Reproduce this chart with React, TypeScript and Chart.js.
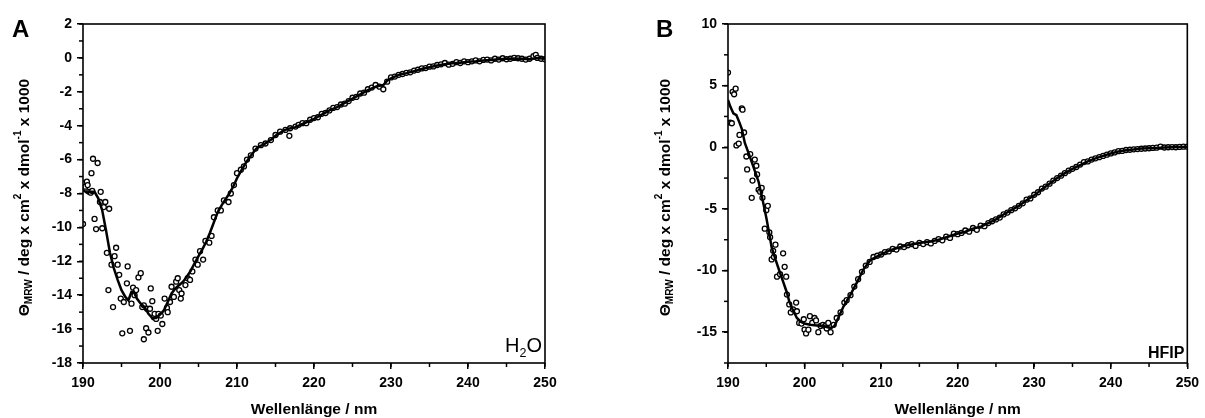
import React, { useEffect, useRef } from "react";
import { Chart, registerables } from "chart.js";

Chart.register(...registerables);

// ---------- Panel A (H2O) ----------
const aLineX = [190, 190.5, 191, 191.5, 192, 192.5, 193, 193.5, 194, 194.5, 195, 195.5, 195.9, 196.3, 196.6, 197, 197.5, 198, 198.5, 199, 199.5, 200, 200.5, 201, 201.5, 202, 202.5, 203, 203.5, 204, 204.5, 205, 205.5, 206, 206.5, 207, 207.5, 208, 208.5, 209, 209.5, 210, 210.5, 211, 211.5, 212, 212.5, 213, 213.5, 214, 214.5, 215, 215.5, 216, 216.5, 217, 217.5, 218, 218.5, 219, 219.5, 220, 221, 222, 223, 224, 225, 226, 227, 228, 228.5, 229, 229.5, 230, 231, 232, 233, 234, 235, 236, 237, 238, 239, 240, 241, 242, 243, 244, 245, 246, 247, 248, 249, 250];
const aLineY = [-7.8, -7.95, -7.9, -7.9, -8.3, -9.0, -10.2, -11.5, -12.4, -13.1, -13.7, -14.1, -14.3, -13.8, -13.8, -14.2, -14.5, -14.7, -15.1, -15.35, -15.35, -15.15, -14.9, -14.4, -13.9, -13.6, -13.4, -13.2, -12.9, -12.55, -12.1, -11.7, -11.3, -10.85, -10.3, -9.7, -9.1, -8.7, -8.35, -8.0, -7.6, -7.1, -6.7, -6.3, -5.95, -5.65, -5.35, -5.2, -5.1, -4.95, -4.8, -4.6, -4.45, -4.3, -4.2, -4.15, -4.1, -4.0, -3.9, -3.8, -3.7, -3.6, -3.35, -3.1, -2.9, -2.65, -2.4, -2.15, -1.9, -1.7, -1.65, -1.6, -1.35, -1.2, -1.0, -0.9, -0.78, -0.65, -0.55, -0.45, -0.38, -0.32, -0.28, -0.22, -0.2, -0.15, -0.12, -0.08, -0.05, -0.03, -0.05, -0.08, 0.0, -0.05];

const aPtsX = [190, 190.1, 190.3, 190.5, 190.6, 190.8, 191.0, 191.1, 191.2, 191.3, 191.5, 191.7, 191.9, 192.2, 192.3, 192.5, 192.7, 192.9, 193.1, 193.3, 193.4, 193.7, 193.9, 194.1, 194.3, 194.5, 194.7, 194.9, 195.1, 195.3, 195.7, 195.8, 196.1, 196.3, 196.5, 196.7, 196.9, 197.2, 197.5, 197.7, 197.9, 197.9, 198.2, 198.3, 198.5, 198.7, 198.8, 199.0, 199.2, 199.3, 199.5, 199.7, 199.8, 200.1, 200.3, 200.6, 200.9, 201.0, 201.3, 201.5, 201.8, 202.1, 202.3, 202.5, 202.7, 202.8, 203.3, 203.6, 203.9, 204.2, 204.6, 204.9, 205.2, 205.6, 205.9, 206.4, 206.7, 207.0, 207.5, 207.9, 208.3, 208.9, 209.2, 209.6, 210.0, 210.5, 210.9, 211.3, 211.8, 212.4, 213.1, 213.7, 214.4, 215.0, 215.6, 216.3, 216.8, 216.9, 217.6, 218, 218.5, 219, 219.5, 220, 220.5, 221, 221.5, 222, 222.5, 223, 223.5, 224, 224.5, 225, 225.5, 226, 226.5, 227, 227.5, 228, 228.5, 229, 229.5, 230, 230.5, 231, 231.5, 232, 232.5, 233, 233.5, 234, 234.5, 235, 235.5, 236, 236.5, 237, 237.5, 238, 238.5, 239, 239.5, 240, 240.5, 241, 241.5, 242, 242.5, 243, 243.5, 244, 244.5, 245, 245.5, 246, 246.5, 247, 247.5, 248, 248.5, 248.8, 249, 249.5, 250];
const aPtsY = [-9.8, -7.4, -7.6, -7.3, -7.5, -7.9, -7.95, -6.8, -7.85, -5.95, -9.5, -10.1, -6.2, -8.5, -7.9, -10.05, -8.8, -8.5, -11.5, -13.7, -8.9, -12.2, -14.7, -11.7, -11.2, -12.2, -12.8, -14.2, -16.25, -14.4, -13.3, -12.3, -16.1, -14.5, -13.55, -14.0, -13.7, -12.95, -12.7, -14.7, -16.6, -14.6, -15.95, -14.8, -16.2, -14.8, -13.6, -14.35, -15.3, -15.1, -15.4, -16.1, -15.1, -15.2, -15.7, -14.2, -14.75, -15.0, -14.4, -13.5, -14.1, -13.2, -13.0, -13.7, -14.2, -13.9, -13.4, -13.0, -13.1, -12.6, -11.9, -12.2, -11.4, -11.9, -10.8, -10.9, -10.5, -9.4, -9.0, -9.0, -8.4, -8.5, -8.0, -7.5, -6.8, -6.6, -6.4, -6.0, -5.75, -5.35, -5.15, -5.05, -4.85, -4.55, -4.35, -4.25, -4.6, -4.15, -4.05, -3.95, -3.85, -3.85, -3.65, -3.55, -3.5, -3.3, -3.25, -3.1, -2.95, -2.9, -2.75, -2.7, -2.55, -2.35, -2.3, -2.1, -2.05, -1.85, -1.75, -1.6, -1.7, -1.85, -1.4, -1.15, -1.1, -1.0, -0.95, -0.88, -0.85, -0.75, -0.7, -0.62, -0.6, -0.52, -0.5, -0.42, -0.38, -0.3, -0.4, -0.35, -0.25, -0.3, -0.2, -0.25, -0.2, -0.15, -0.2, -0.12, -0.1, -0.15, -0.05, -0.1, -0.02, -0.08, -0.05, 0.0, -0.02, -0.05, -0.1, -0.05, 0.1, 0.18, 0.0, -0.05, -0.08];

const aYTicks = [-18, -16, -14, -12, -10, -8, -6, -4, -2, 0, 2];

// ---------- Panel B (HFIP) ----------
const bLineX = [190, 190.3, 190.7, 191.1, 191.5, 191.8, 192.2, 192.7, 193.3, 194.0, 194.6, 195.0, 195.3, 195.7, 196.2, 196.8, 197.2, 197.7, 198.0, 198.4, 199.0, 199.5, 200.0, 200.7, 201.6, 202.5, 203.0, 203.5, 203.9, 204.4, 205.1, 206.0, 206.9, 207.7, 208.6, 209.5, 210.3, 211.2, 212.5, 213.8, 215.2, 216.5, 217.8, 219, 220, 221, 222, 223, 224, 225, 226, 227, 228, 229, 230, 231, 232, 233, 234, 235, 236, 237, 238, 239, 240, 241, 242, 243, 244, 245, 246, 247, 248, 249, 250];
const bLineY = [3.85, 3.3, 2.75, 2.6, 2.0, 1.5, 0.35, -0.5, -1.55, -2.8, -4.5, -5.7, -6.7, -8.1, -9.1, -10.2, -10.9, -11.8, -12.5, -13.1, -13.85, -14.15, -14.3, -14.4, -14.45, -14.5, -14.6, -14.65, -14.5, -13.85, -12.9, -11.95, -10.9, -9.9, -9.15, -8.85, -8.6, -8.35, -8.1, -7.9, -7.75, -7.65, -7.45, -7.2, -7.0, -6.85, -6.6, -6.45, -6.15, -5.85, -5.45, -5.1, -4.75, -4.3, -3.9, -3.4, -2.95, -2.5, -2.1, -1.75, -1.45, -1.15, -0.9, -0.7, -0.5, -0.35, -0.25, -0.18, -0.1, -0.08, -0.05, -0.02, 0.0, 0.02, 0.05];

const bPtsX = [190, 190.3, 190.5, 190.6, 190.8, 191.0, 191.1, 191.4, 191.5, 191.8, 191.9, 192.1, 192.4, 192.5, 192.9, 193.1, 193.2, 193.5, 193.7, 193.8, 194.0, 194.2, 194.4, 194.5, 194.8, 195.0, 195.2, 195.4, 195.5, 195.7, 195.9, 196.0, 196.2, 196.4, 196.8, 197.2, 197.4, 197.6, 197.7, 198.0, 198.2, 198.5, 198.9, 199.0, 199.3, 199.6, 199.9, 200.0, 200.2, 200.5, 200.7, 201.0, 201.3, 201.5, 201.8, 202.1, 202.4, 202.7, 202.9, 203.1, 203.4, 203.8, 204.2, 204.7, 205.2, 205.5, 206, 206.5, 207, 207.5, 208, 208.5, 209, 209.5, 210, 210.5, 211, 211.5, 212, 212.5, 213, 213.5, 214, 214.5, 215, 215.5, 216, 216.5, 217, 217.5, 218, 218.5, 219, 219.5, 220, 220.5, 221, 221.5, 222, 222.5, 223, 223.5, 224, 224.5, 225, 225.5, 226, 226.5, 227, 227.5, 228, 228.5, 229, 229.5, 230, 230.5, 231, 231.5, 232, 232.5, 233, 233.5, 234, 234.5, 235, 235.5, 236, 236.5, 237, 237.5, 238, 238.5, 239, 239.5, 240, 240.5, 241, 241.5, 242, 242.5, 243, 243.5, 244, 244.5, 245, 245.5, 246, 246.5, 247, 247.5, 248, 248.5, 249, 249.5, 250];
const bPtsY = [6.06, 2.0, 1.95, 4.5, 4.3, 4.75, 0.15, 0.3, 1.0, 3.15, 3.05, 1.2, -0.75, -1.8, -0.55, -4.1, -2.7, -1.0, -1.5, -2.2, -3.45, -3.6, -3.3, -4.1, -6.6, -5.1, -4.75, -6.9, -7.3, -9.1, -8.4, -8.9, -7.9, -10.5, -10.3, -8.6, -9.7, -10.5, -11.95, -12.75, -13.4, -13.15, -12.6, -13.3, -14.25, -14.3, -13.95, -14.8, -15.1, -14.8, -13.7, -14.25, -13.85, -14.05, -15.0, -14.5, -14.4, -14.5, -14.7, -14.25, -15.0, -14.4, -13.85, -13.4, -12.6, -12.4, -12.0, -11.3, -10.7, -10.1, -9.6, -9.3, -8.9, -8.8, -8.7, -8.5, -8.45, -8.25, -8.3, -8.05, -8.1, -7.95, -7.85, -8.0, -7.75, -7.85, -7.7, -7.8, -7.6, -7.45, -7.55, -7.25, -7.35, -7.0, -7.05, -6.95, -6.75, -6.85, -6.55, -6.7, -6.35, -6.4, -6.15, -6.0, -5.85, -5.7, -5.45, -5.3, -5.1, -4.95, -4.75, -4.55, -4.25, -4.15, -3.85, -3.65, -3.35, -3.2, -2.95, -2.7, -2.5, -2.3, -2.1, -1.9, -1.75, -1.6, -1.4, -1.2, -1.15, -1.0, -0.9, -0.8, -0.7, -0.6, -0.5, -0.42, -0.32, -0.3, -0.22, -0.2, -0.17, -0.15, -0.12, -0.1, -0.08, -0.05, -0.03, 0.05, -0.02, 0.0, 0.02, 0.0, 0.03, 0.05, 0.05];

const bYTicks = [-15, -10, -5, 0, 5, 10];

const xTitle = "Wellenlänge / nm";
const FONT = "'Liberation Sans', Arial, Helvetica, sans-serif";

type Seg = { t: string; size: number; dy: number };
const yTitleSegs: Seg[] = [
  { t: "Θ", size: 15.5, dy: 0 },
  { t: "MRW", size: 10, dy: 4.5 },
  { t: " / deg x cm", size: 15.5, dy: 0 },
  { t: "2", size: 10, dy: -6.5 },
  { t: " x dmol", size: 15.5, dy: 0 },
  { t: "-1", size: 10, dy: -6.5 },
  { t: " x 1000", size: 15.5, dy: 0 },
];

const framePlugin = {
  id: "frame",
  afterDraw(chart: any, _args: any, opts: any) {
    const { ctx, chartArea: a, scales } = chart;
    ctx.save();
    ctx.strokeStyle = "#000";
    ctx.lineWidth = 1.6;
    ctx.strokeRect(a.left, a.top, a.right - a.left, a.bottom - a.top);
    // minor ticks
    const xs = scales.x;
    const ys = scales.y;
    ctx.lineWidth = 1.5;
    const nx = Math.round((xs.max - xs.min) / opts.xMinor);
    for (let i = 0; i <= nx; i++) {
      const v = xs.min + i * opts.xMinor;
      const px = xs.getPixelForValue(v);
      ctx.beginPath();
      ctx.moveTo(px, a.bottom);
      ctx.lineTo(px, a.bottom + 4);
      ctx.stroke();
    }
    const ny = Math.round((ys.max - ys.min) / opts.yMinor);
    for (let i = 0; i <= ny; i++) {
      const v = ys.min + i * opts.yMinor;
      const py = ys.getPixelForValue(v);
      ctx.beginPath();
      ctx.moveTo(a.left - 4, py);
      ctx.lineTo(a.left, py);
      ctx.stroke();
    }
    // y title
    ctx.fillStyle = "#000";
    ctx.textBaseline = "middle";
    ctx.textAlign = "left";
    let total = 0;
    const widths = yTitleSegs.map((s) => {
      ctx.font = `bold ${s.size}px ${FONT}`;
      const w = ctx.measureText(s.t).width;
      total += w;
      return w;
    });
    ctx.save();
    ctx.translate(opts.yTitleX, (a.top + a.bottom) / 2 + 4);
    ctx.rotate(-Math.PI / 2);
    let cx = -total / 2;
    yTitleSegs.forEach((s, i) => {
      ctx.font = `bold ${s.size}px ${FONT}`;
      ctx.fillText(s.t, cx, s.dy);
      cx += widths[i];
    });
    ctx.restore();
    // panel letter
    ctx.font = `bold 24px ${FONT}`;
    ctx.textBaseline = "alphabetic";
    ctx.textAlign = "left";
    ctx.fillText(opts.letter, opts.letterX, 37);
    // corner label
    if (opts.corner === "H2O") {
      const parts: Seg[] = [
        { t: "H", size: 20, dy: 0 },
        { t: "2", size: 12.5, dy: 5 },
        { t: "O", size: 20, dy: 0 },
      ];
      let w = 0;
      const ws = parts.map((p) => {
        ctx.font = `${p.size}px ${FONT}`;
        const m = ctx.measureText(p.t).width;
        w += m;
        return m;
      });
      let x0 = a.right - 3 - w;
      const base = a.bottom - 11;
      parts.forEach((p, i) => {
        ctx.font = `${p.size}px ${FONT}`;
        ctx.fillText(p.t, x0, base + p.dy);
        x0 += ws[i];
      });
    } else {
      ctx.font = `bold 16px ${FONT}`;
      ctx.textAlign = "right";
      ctx.fillText(opts.corner, a.right - 3, a.bottom - 5);
    }
    // x title
    ctx.font = `bold 15.5px ${FONT}`;
    ctx.textAlign = "center";
    ctx.textBaseline = "alphabetic";
    ctx.fillText(xTitle, (a.left + a.right) / 2, 414);
    ctx.restore();
  },
};

type PanelSpec = {
  lineX: number[];
  lineY: number[];
  ptsX: number[];
  ptsY: number[];
  yMin: number;
  yMax: number;
  yTicks: number[];
  yMinor: number;
  yWidth: number;
  padRight: number;
  letter: string;
  letterX: number;
  corner: string;
  yTitleX: number;
};

function Panel({ spec, left, width }: { spec: PanelSpec; left: number; width: number }) {
  const ref = useRef<HTMLCanvasElement | null>(null);
  useEffect(() => {
    if (!ref.current) return;
    const tickFont = { family: FONT, size: 14, weight: "bold" as const };
    const chart = new Chart(ref.current, {
      type: "scatter",
      data: {
        datasets: [
          {
            label: "fit",
            data: spec.lineX.map((x, i) => ({ x, y: spec.lineY[i] })),
            showLine: true,
            borderColor: "#000",
            borderWidth: 2.5,
            pointRadius: 0,
            tension: 0,
            order: 0,
          } as any,
          {
            label: "data",
            data: spec.ptsX.map((x, i) => ({ x, y: spec.ptsY[i] })),
            showLine: false,
            pointRadius: 2.5,
            pointBorderWidth: 1.3,
            pointBorderColor: "#000",
            pointBackgroundColor: "#fff",
            borderColor: "#000",
            backgroundColor: "#fff",
            order: 1,
          } as any,
        ],
      },
      options: {
        responsive: false,
        animation: false,
        devicePixelRatio: 1,
        layout: { padding: { top: 24, right: spec.padRight, left: 0, bottom: 0 } },
        plugins: {
          legend: { display: false },
          tooltip: { enabled: false },
          frame: {
            xMinor: 5,
            yMinor: spec.yMinor,
            letter: spec.letter,
            letterX: spec.letterX,
            corner: spec.corner,
            yTitleX: spec.yTitleX,
          },
        } as any,
        scales: {
          x: {
            type: "linear",
            min: 190,
            max: 250,
            ticks: { stepSize: 10, font: tickFont, color: "#000", padding: 6, maxRotation: 0 },
            grid: { display: true, drawOnChartArea: false, drawTicks: true, tickLength: 6, color: "#000", lineWidth: 1.5 },
            border: { display: false },
            afterFit: (s: any) => {
              s.height = 55;
            },
          },
          y: {
            type: "linear",
            min: spec.yMin,
            max: spec.yMax,
            afterBuildTicks: (s: any) => {
              s.ticks = spec.yTicks.map((v) => ({ value: v }));
            },
            ticks: { font: tickFont, color: "#000", padding: 5 },
            grid: { display: true, drawOnChartArea: false, drawTicks: true, tickLength: 6, color: "#000", lineWidth: 1.5 },
            border: { display: false },
            afterFit: (s: any) => {
              s.width = spec.yWidth;
            },
          },
        },
      } as any,
      plugins: [framePlugin],
    });
    return () => chart.destroy();
  }, [spec]);
  return (
    <canvas
      ref={ref}
      width={width}
      height={418}
      style={{ position: "absolute", left, top: 0, width, height: 418 }}
    />
  );
}

const specA: PanelSpec = {
  lineX: aLineX,
  lineY: aLineY,
  ptsX: aPtsX,
  ptsY: aPtsY,
  yMin: -18,
  yMax: 2,
  yTicks: aYTicks,
  yMinor: 1,
  yWidth: 83,
  padRight: 55,
  letter: "A",
  letterX: 12,
  corner: "H2O",
  yTitleX: 25,
};

const specB: PanelSpec = {
  lineX: bLineX,
  lineY: bLineY,
  ptsX: bPtsX,
  ptsY: bPtsY,
  yMin: -17.5,
  yMax: 10,
  yTicks: bYTicks,
  yMinor: 2.5,
  yWidth: 128,
  padRight: 15,
  letter: "B",
  letterX: 56,
  corner: "HFIP",
  yTitleX: 66,
};

export default function App() {
  return (
    <div style={{ position: "fixed", left: 0, top: 0, width: 1205, height: 418, background: "#fff" }}>
      <Panel spec={specA} left={0} width={600} />
      <Panel spec={specB} left={600} width={605} />
    </div>
  );
}
